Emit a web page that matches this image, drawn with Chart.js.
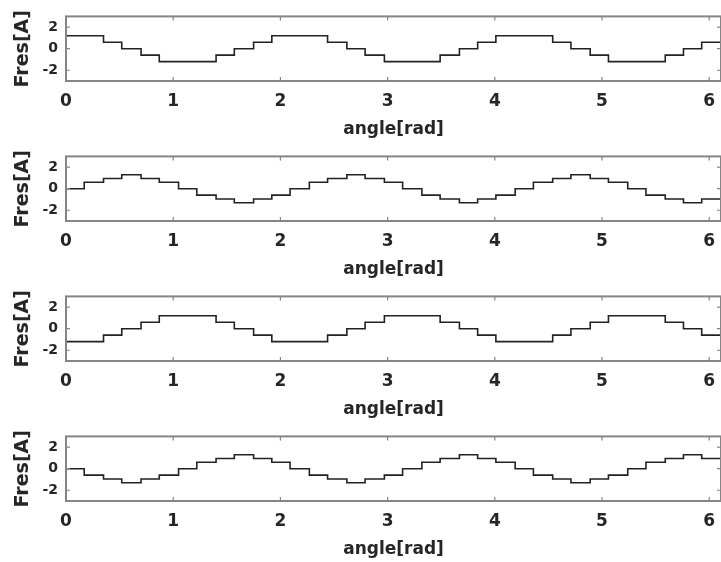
<!DOCTYPE html>
<html>
<head>
<meta charset="utf-8">
<script src="https://cdn.jsdelivr.net/npm/chart.js@4/dist/chart.umd.min.js"></script>
<style>
  html, body { margin: 0; padding: 0; background: #fff; overflow: hidden; }
  .panel { position: absolute; left: 0; width: 740px; height: 140px; }
</style>
</head>
<body>
<div class="panel" style="top:0px"><canvas id="c1" width="740" height="140"></canvas></div>
<div class="panel" style="top:140px"><canvas id="c2" width="740" height="140"></canvas></div>
<div class="panel" style="top:280px"><canvas id="c3" width="740" height="140"></canvas></div>
<div class="panel" style="top:420px"><canvas id="c4" width="740" height="140"></canvas></div>
<script>
// step positions along the angle axis (rad)
const angle = [0, 0.17, 0.35, 0.52, 0.70, 0.87, 1.05, 1.22, 1.40, 1.57, 1.75, 1.92,
  2.09, 2.27, 2.44, 2.62, 2.79, 2.97, 3.14, 3.32, 3.49, 3.67, 3.84, 4.01,
  4.19, 4.36, 4.54, 4.71, 4.89, 5.06, 5.24, 5.41, 5.59, 5.76, 5.93, 6.11];

// level held from each angle to the next one
const fres1 = [1.2, 1.2, 0.6, 0, -0.6, -1.2, -1.2, -1.2, -0.6, 0, 0.6, 1.2,
  1.2, 1.2, 0.6, 0, -0.6, -1.2, -1.2, -1.2, -0.6, 0, 0.6, 1.2,
  1.2, 1.2, 0.6, 0, -0.6, -1.2, -1.2, -1.2, -0.6, 0, 0.6, 1.2];
const fres2 = [0, 0.6, 0.95, 1.3, 0.95, 0.6, 0, -0.6, -0.95, -1.3, -0.95, -0.6,
  0, 0.6, 0.95, 1.3, 0.95, 0.6, 0, -0.6, -0.95, -1.3, -0.95, -0.6,
  0, 0.6, 0.95, 1.3, 0.95, 0.6, 0, -0.6, -0.95, -1.3, -0.95, -0.6];
const fres3 = [-1.2, -1.2, -0.6, 0, 0.6, 1.2, 1.2, 1.2, 0.6, 0, -0.6, -1.2,
  -1.2, -1.2, -0.6, 0, 0.6, 1.2, 1.2, 1.2, 0.6, 0, -0.6, -1.2,
  -1.2, -1.2, -0.6, 0, 0.6, 1.2, 1.2, 1.2, 0.6, 0, -0.6, -1.2];
const fres4 = [0, -0.6, -0.95, -1.3, -0.95, -0.6, 0, 0.6, 0.95, 1.3, 0.95, 0.6,
  0, -0.6, -0.95, -1.3, -0.95, -0.6, 0, 0.6, 0.95, 1.3, 0.95, 0.6,
  0, -0.6, -0.95, -1.3, -0.95, -0.6, 0, 0.6, 0.95, 1.3, 0.95, 0.6];

const xTicks = [0, 1, 2, 3, 4, 5, 6];
const yTicks = [-2, 0, 2];
const xRange = [0, 6.11];
const yRange = [-3, 3];

const FONT = 'DejaVu Sans';
const TEXT = '#262626';

// matlab-like box with inward ticks on all four sides
const boxPlugin = {
  id: 'box',
  afterDatasetsDraw(chart) {
    const { ctx, chartArea: a, scales: { x, y } } = chart;
    ctx.save();
    ctx.strokeStyle = '#858585';
    ctx.lineWidth = 2;
    ctx.strokeRect(a.left, a.top, a.right - a.left, a.bottom - a.top);
    ctx.lineWidth = 1.2;
    ctx.beginPath();
    x.ticks.forEach(t => {
      const px = x.getPixelForValue(t.value);
      ctx.moveTo(px, a.top); ctx.lineTo(px, a.top + 4);
      ctx.moveTo(px, a.bottom); ctx.lineTo(px, a.bottom - 4);
    });
    y.ticks.forEach(t => {
      const py = y.getPixelForValue(t.value);
      ctx.moveTo(a.left, py); ctx.lineTo(a.left + 4, py);
      ctx.moveTo(a.right, py); ctx.lineTo(a.right - 4, py);
    });
    ctx.stroke();
    ctx.restore();
  }
};

function makePanel(id, values) {
  const ctx = document.getElementById(id).getContext('2d');
  return new Chart(ctx, {
    type: 'line',
    data: {
      datasets: [{
        data: angle.map((a, i) => ({ x: a, y: values[i] })),
        borderColor: '#222222',
        borderWidth: 1.6,
        stepped: 'before',
        pointRadius: 0,
        fill: false,
      }],
    },
    options: {
      responsive: false,
      animation: false,
      layout: { padding: { top: 16, right: 19, left: 0, bottom: 0 } },
      plugins: { legend: { display: false }, tooltip: { enabled: false } },
      scales: {
        x: {
          type: 'linear',
          min: xRange[0], max: xRange[1],
          afterBuildTicks: s => { s.ticks = xTicks.map(v => ({ value: v })); },
          afterFit: s => { s.height = 59; },
          grid: { display: false, drawTicks: false },
          border: { display: false },
          ticks: { color: TEXT, padding: 10, font: { family: FONT, size: 17, weight: 'bold' } },
          title: {
            display: true, text: 'angle[rad]', color: TEXT, padding: 0,
            font: { family: FONT, size: 17, weight: 'bold' },
          },
        },
        y: {
          min: yRange[0], max: yRange[1],
          afterBuildTicks: s => { s.ticks = yTicks.map(v => ({ value: v })); },
          afterFit: s => { s.width = 66; },
          grid: { display: false, drawTicks: false },
          border: { display: false },
          ticks: { color: TEXT, padding: 8, font: { family: FONT, size: 14, weight: 'bold' } },
          title: {
            display: true, text: 'Fres[A]', color: TEXT, padding: { top: 12, bottom: 0 },
            font: { family: FONT, size: 19, weight: 'bold' },
          },
        },
      },
    },
    plugins: [boxPlugin],
  });
}

makePanel('c1', fres1);
makePanel('c2', fres2);
makePanel('c3', fres3);
makePanel('c4', fres4);
</script>
</body>
</html>
